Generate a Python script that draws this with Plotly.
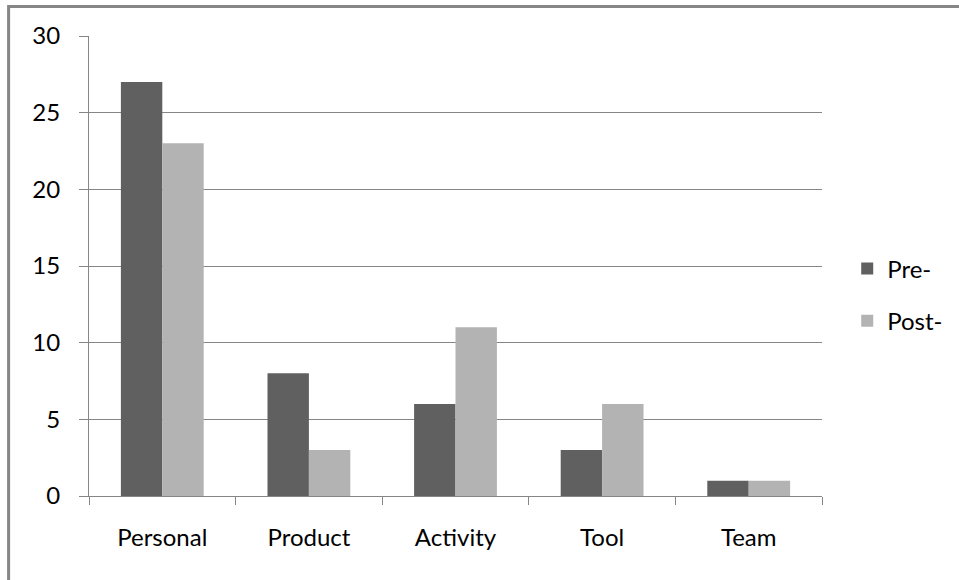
import plotly.graph_objects as go

categories = ["Personal", "Product", "Activity", "Tool", "Team"]
pre_values = [27, 8, 6, 3, 1]
post_values = [23, 3, 11, 6, 1]
y_ticks = [0, 5, 10, 15, 20, 25, 30]

FONT = "Lato"
W, H = 959, 580
L, R, T, B = 89, 136, 36, 84
PW, PH = W - L - R, H - T - B

fig = go.Figure()
fig.add_trace(go.Bar(x=categories, y=pre_values, name="Pre-", marker_color="#606060",
                     marker_line_width=0, legendgroup="a"))
fig.add_trace(go.Bar(x=categories, y=post_values, name="Post-", marker_color="#b3b3b3",
                     marker_line_width=0, legendgroup="b"))

bx0 = (8.5 - L) / PW
bx1 = (W + 40 - L) / PW
by0 = -(B + 40) / PH
by1 = (H - 6.5 - B) / PH
border_path = f"M {bx0},{by0} L {bx0},{by1} L {bx1},{by1}"

fig.update_layout(
    width=W, height=H,
    margin=dict(l=L, r=R, t=T, b=B),
    paper_bgcolor="white", plot_bgcolor="white",
    barmode="group", bargap=0.435, bargroupgap=0,
    font=dict(family=FONT, size=24, color="#000000"),
    showlegend=True,
    legend=dict(x=1.033, xanchor="left", y=0.437, yanchor="middle",
                traceorder="grouped", tracegroupgap=18,
                font=dict(family=FONT, size=24, color="#000000"),
                bgcolor="rgba(0,0,0,0)"),
    xaxis=dict(type="category", tickson="boundaries", ticks="outside", ticklen=8,
               tickcolor="#868686", tickwidth=1, showline=True, linecolor="#868686",
               linewidth=1, showgrid=False, ticklabelstandoff=20,
               tickfont=dict(family=FONT, size=24)),
    yaxis=dict(range=[0, 30], tickvals=y_ticks, ticks="outside", ticklen=9,
               tickcolor="#868686", tickwidth=1, showline=True, linecolor="#868686",
               linewidth=1, showgrid=True, gridcolor="#868686", gridwidth=1,
               zeroline=False, ticklabelstandoff=14,
               tickfont=dict(family=FONT, size=24)),
    shapes=[dict(type="path", xref="paper", yref="paper", path=border_path,
                 line=dict(color="#868686", width=3), layer="below")],
)

page_css = ("document.body.style.margin='0';"
            "document.body.style.overflow='hidden';"
            "document.documentElement.style.overflow='hidden';")

fig.write_html("out.html", post_script=page_css, config={"displayModeBar": False})
